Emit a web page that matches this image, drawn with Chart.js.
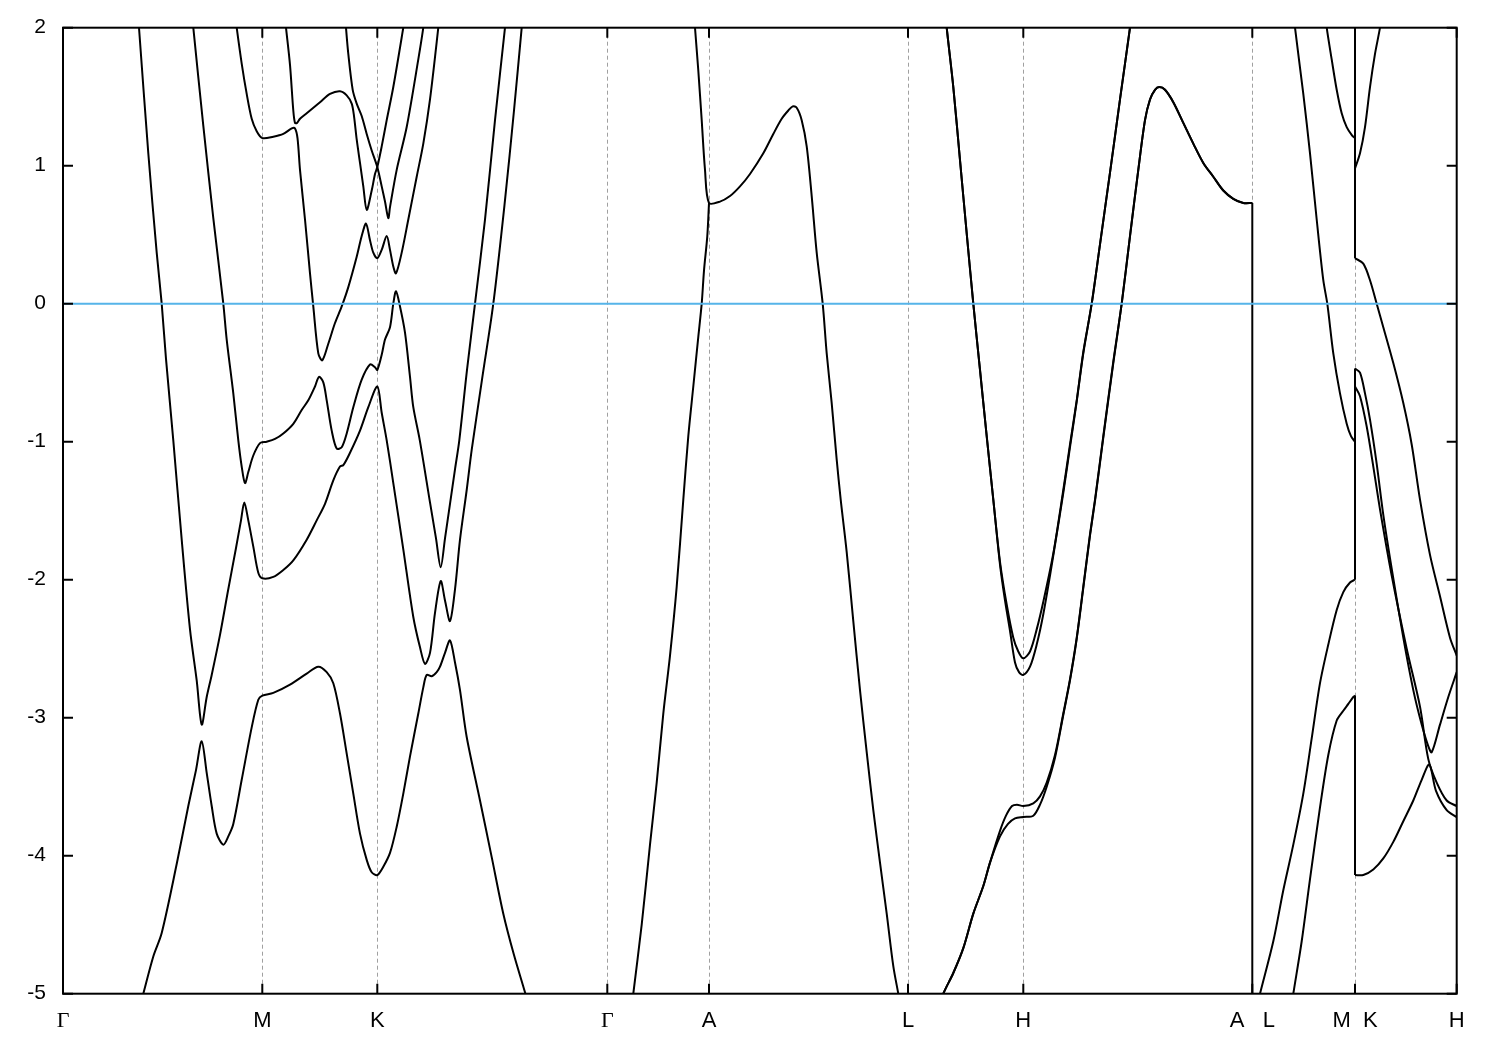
<!DOCTYPE html>
<html>
<head>
<meta charset="utf-8">
<script src="https://cdn.jsdelivr.net/npm/chart.js@4.4.1/dist/chart.umd.min.js"></script>
<style>
  html, body { margin: 0; padding: 0; background: #fff; }
</style>
</head>
<body>
<canvas id="bands" width="1500" height="1050"></canvas>
<script>
// high-symmetry points along the k-path
const kTicks = [0, 1.993, 3.143, 5.443, 6.46, 8.45, 9.603, 11.893, 12.92, 13.937];
const kLabels = ['Γ', 'M', 'K', 'Γ', 'A', 'L', 'H', 'A   L', 'M  K', 'H'];
const eTicks = [-5, -4, -3, -2, -1, 0, 1, 2];
const fermi = [[0, 0], [13.937, 0]];

// Γ - M - K - Γ
const band1 = [[0.785,-5.05],[0.803,-5.00],[0.903,-4.73],[0.987,-4.56],[1.137,-4.06],[1.253,-3.64],[1.33,-3.38],[1.387,-3.17],[1.437,-3.40],[1.487,-3.64],[1.537,-3.84],[1.603,-3.92],[1.653,-3.86],[1.703,-3.77],[1.787,-3.45],[1.887,-3.07],[1.953,-2.87],[1.993,-2.84],[2.103,-2.82],[2.27,-2.76],[2.437,-2.68],[2.553,-2.63],[2.637,-2.67],[2.703,-2.75],[2.77,-2.97],[2.837,-3.26],[2.903,-3.55],[2.97,-3.84],[3.037,-4.03],[3.087,-4.12],[3.143,-4.14],[3.203,-4.08],[3.27,-3.98],[3.337,-3.79],[3.403,-3.55],[3.47,-3.28],[3.553,-2.97],[3.603,-2.78],[3.637,-2.69],[3.687,-2.70],[3.737,-2.67],[3.77,-2.63],[3.82,-2.53],[3.87,-2.44],[3.92,-2.60],[3.97,-2.80],[4.037,-3.14],[4.17,-3.60],[4.287,-4.01],[4.403,-4.42],[4.51,-4.72],[4.62,-4.99],[4.64,-5.05]];
const band2 = [[0.755,2.05],[0.76,2.00],[0.853,1.09],[0.937,0.37],[0.987,0.00],[1.03,-0.40],[1.103,-0.99],[1.187,-1.71],[1.27,-2.36],[1.337,-2.73],[1.387,-3.05],[1.437,-2.85],[1.487,-2.69],[1.57,-2.40],[1.65,-2.08],[1.73,-1.77],[1.78,-1.57],[1.813,-1.44],[1.853,-1.57],[1.903,-1.76],[1.953,-1.95],[1.993,-1.99],[2.103,-1.98],[2.203,-1.93],[2.303,-1.86],[2.437,-1.71],[2.537,-1.57],[2.62,-1.45],[2.703,-1.28],[2.77,-1.18],[2.803,-1.17],[2.87,-1.08],[2.97,-0.92],[3.053,-0.75],[3.143,-0.60],[3.187,-0.79],[3.237,-0.99],[3.303,-1.30],[3.403,-1.78],[3.503,-2.27],[3.57,-2.49],[3.62,-2.61],[3.67,-2.53],[3.72,-2.24],[3.777,-2.01],[3.82,-2.15],[3.87,-2.30],[3.92,-2.07],[3.97,-1.71],[4.037,-1.35],[4.087,-1.06],[4.19,-0.55],[4.303,0.00],[4.42,0.75],[4.51,1.40],[4.587,2.00],[4.595,2.06]];
const band3 = [[1.297,2.06],[1.303,2.00],[1.403,1.29],[1.503,0.62],[1.603,0.00],[1.637,-0.26],[1.703,-0.65],[1.753,-0.99],[1.787,-1.18],[1.82,-1.30],[1.853,-1.22],[1.903,-1.10],[1.97,-1.01],[2.037,-1.00],[2.12,-0.98],[2.203,-0.94],[2.303,-0.87],[2.387,-0.77],[2.453,-0.70],[2.52,-0.60],[2.56,-0.53],[2.603,-0.57],[2.637,-0.70],[2.687,-0.92],[2.737,-1.05],[2.787,-1.04],[2.837,-0.94],[2.903,-0.75],[2.987,-0.55],[3.07,-0.44],[3.12,-0.46],[3.143,-0.48],[3.187,-0.37],[3.22,-0.26],[3.27,-0.17],[3.303,0.00],[3.33,0.09],[3.37,-0.02],[3.42,-0.21],[3.47,-0.53],[3.503,-0.75],[3.568,-0.99],[3.67,-1.44],[3.73,-1.70],[3.777,-1.91],[3.82,-1.70],[3.87,-1.45],[3.92,-1.20],[3.963,-0.99],[4.04,-0.48],[4.12,0.00],[4.22,0.61],[4.32,1.33],[4.42,2.00],[4.427,2.06]];
const band4 = [[1.728,2.06],[1.737,2.00],[1.787,1.74],[1.837,1.52],[1.887,1.34],[1.937,1.25],[1.993,1.20],[2.103,1.21],[2.203,1.23],[2.287,1.27],[2.32,1.27],[2.345,1.20],[2.37,0.97],[2.42,0.61],[2.47,0.22],[2.503,-0.02],[2.553,-0.36],[2.593,-0.41],[2.653,-0.29],[2.72,-0.14],[2.787,-0.02],[2.853,0.12],[2.937,0.34],[2.987,0.49],[3.03,0.58],[3.07,0.46],[3.103,0.37],[3.143,0.33],[3.187,0.39],[3.237,0.49],[3.27,0.39],[3.303,0.27],[3.33,0.22],[3.387,0.37],[3.453,0.61],[3.537,0.92],[3.603,1.16],[3.67,1.48],[3.753,2.00],[3.76,2.06]];
const band5 = [[2.222,2.06],[2.23,2.00],[2.27,1.73],[2.303,1.40],[2.32,1.31],[2.34,1.31],[2.37,1.34],[2.437,1.38],[2.57,1.46],[2.67,1.52],[2.77,1.54],[2.837,1.51],[2.887,1.45],[2.91,1.36],[2.937,1.19],[2.97,1.02],[3.003,0.85],[3.037,0.68],[3.087,0.82],[3.12,0.94],[3.143,0.99],[3.187,1.14],[3.237,1.33],[3.303,1.57],[3.403,2.00],[3.415,2.06]];
const band6 = [[2.825,2.06],[2.83,2.00],[2.853,1.81],[2.897,1.55],[2.937,1.45],[2.987,1.36],[3.037,1.23],[3.087,1.11],[3.143,0.99],[3.187,0.85],[3.22,0.74],[3.253,0.62],[3.27,0.70],[3.337,0.97],[3.437,1.28],[3.553,1.77],[3.603,2.00],[3.61,2.06]];

// Γ - A - L - H - A
const gaRise = [[5.695,-5.05],[5.703,-5.00],[5.787,-4.50],[5.87,-3.92],[5.937,-3.47],[6.003,-2.97],[6.07,-2.55],[6.137,-2.05],[6.203,-1.42],[6.253,-0.96],[6.303,-0.60],[6.353,-0.24],[6.387,0.00],[6.41,0.24],[6.443,0.49],[6.46,0.73]];
const gaHump = [[6.315,2.06],[6.32,2.00],[6.353,1.69],[6.387,1.33],[6.42,0.97],[6.46,0.73],[6.57,0.74],[6.67,0.78],[6.77,0.85],[6.87,0.94],[7.003,1.09],[7.103,1.23],[7.187,1.34],[7.253,1.40],[7.297,1.43],[7.337,1.42],[7.387,1.33],[7.437,1.14],[7.487,0.78],[7.537,0.37],[7.597,0.00],[7.637,-0.36],[7.687,-0.72],[7.737,-1.13],[7.777,-1.42],[7.837,-1.80],[7.903,-2.30],[7.97,-2.80],[8.037,-3.25],[8.103,-3.67],[8.17,-4.05],[8.237,-4.42],[8.303,-4.80],[8.353,-5.00],[8.365,-5.05]];
const hValleyA = [[8.832,2.06],[8.837,2.00],[8.903,1.57],[8.97,1.04],[9.037,0.51],[9.103,0.00],[9.17,-0.48],[9.237,-0.96],[9.303,-1.42],[9.37,-1.87],[9.437,-2.18],[9.503,-2.42],[9.553,-2.52],[9.603,-2.57],[9.67,-2.52],[9.737,-2.36],[9.803,-2.16],[9.903,-1.81],[10.003,-1.35],[10.07,-1.02],[10.137,-0.70],[10.203,-0.35],[10.287,0.00],[10.37,0.43],[10.47,0.95],[10.57,1.48],[10.67,2.00],[10.68,2.06]];
const hValleyB = [[8.832,2.06],[8.837,2.00],[8.903,1.57],[8.97,1.04],[9.037,0.51],[9.103,0.00],[9.17,-0.48],[9.237,-0.96],[9.303,-1.42],[9.37,-1.89],[9.42,-2.15],[9.47,-2.37],[9.52,-2.60],[9.56,-2.67],[9.603,-2.69],[9.67,-2.63],[9.737,-2.47],[9.803,-2.25],[9.87,-1.97],[9.953,-1.60],[10.003,-1.37],[10.07,-1.04],[10.137,-0.71],[10.203,-0.36],[10.287,0.00],[10.37,0.43],[10.47,0.95],[10.57,1.48],[10.67,2.00],[10.68,2.06]];
const hRiseA = [[8.79,-5.05],[8.803,-5.00],[8.903,-4.85],[9.003,-4.67],[9.103,-4.42],[9.203,-4.22],[9.27,-4.05],[9.37,-3.82],[9.43,-3.71],[9.49,-3.64],[9.54,-3.63],[9.603,-3.64],[9.703,-3.62],[9.77,-3.57],[9.837,-3.47],[9.92,-3.27],[10.003,-2.97],[10.07,-2.72],[10.137,-2.42],[10.203,-2.05],[10.27,-1.67],[10.32,-1.42],[10.403,-0.96],[10.503,-0.42],[10.587,0.00],[10.67,0.49],[10.753,0.97],[10.82,1.33],[10.87,1.48],[10.92,1.55],[10.963,1.57],[11.02,1.55],[11.103,1.46],[11.203,1.31],[11.303,1.16],[11.403,1.02],[11.503,0.92],[11.603,0.82],[11.703,0.76],[11.803,0.73],[11.893,0.73]];
const hRiseB = [[8.79,-5.05],[8.803,-5.00],[8.903,-4.85],[9.003,-4.67],[9.103,-4.42],[9.203,-4.22],[9.27,-4.05],[9.37,-3.86],[9.45,-3.77],[9.52,-3.73],[9.603,-3.72],[9.703,-3.71],[9.77,-3.63],[9.837,-3.50],[9.92,-3.29],[10.003,-2.98],[10.07,-2.73],[10.137,-2.43],[10.203,-2.06],[10.27,-1.68],[10.32,-1.43],[10.403,-0.97],[10.503,-0.43],[10.587,0.00],[10.67,0.49],[10.753,0.97],[10.82,1.33],[10.87,1.48],[10.92,1.55],[10.963,1.57],[11.02,1.55],[11.103,1.46],[11.203,1.31],[11.303,1.16],[11.403,1.02],[11.503,0.92],[11.603,0.82],[11.703,0.76],[11.803,0.73],[11.893,0.73]];

// L - M | K - H
const lmkA = [[12.315,2.06],[12.32,2.00],[12.403,1.52],[12.47,1.09],[12.537,0.61],[12.603,0.17],[12.643,0.00],[12.703,-0.36],[12.77,-0.65],[12.837,-0.87],[12.88,-0.96],[12.92,-1.00]];
const kgA = [[12.92,-0.47],[12.97,-0.50],[13.02,-0.65],[13.07,-0.84],[13.137,-1.16],[13.203,-1.53],[13.287,-1.92],[13.403,-2.42],[13.503,-2.80],[13.587,-3.05],[13.65,-3.20],[13.687,-3.25],[13.77,-3.05],[13.853,-2.85],[13.937,-2.67]];
const lmkB = [[12.632,2.06],[12.637,2.00],[12.687,1.77],[12.737,1.55],[12.787,1.38],[12.837,1.28],[12.89,1.22],[12.92,1.20]];
const kgB = [[12.92,0.33],[13.003,0.29],[13.07,0.17],[13.137,0.00],[13.203,-0.17],[13.303,-0.43],[13.403,-0.72],[13.487,-1.02],[13.57,-1.42],[13.67,-1.82],[13.77,-2.12],[13.87,-2.42],[13.937,-2.55]];
const lmkC = [[11.955,-5.05],[11.97,-5.00],[12.103,-4.62],[12.203,-4.25],[12.303,-3.92],[12.403,-3.55],[12.487,-3.15],[12.57,-2.75],[12.653,-2.47],[12.737,-2.22],[12.803,-2.09],[12.87,-2.02],[12.92,-2.00]];
const kgC = [[12.92,-0.60],[12.97,-0.67],[13.037,-0.89],[13.103,-1.18],[13.17,-1.49],[13.287,-1.97],[13.437,-2.50],[13.57,-2.92],[13.653,-3.30],[13.737,-3.47],[13.837,-3.60],[13.937,-3.64]];
const lmkD = [[12.293,-5.05],[12.303,-5.00],[12.387,-4.62],[12.47,-4.17],[12.57,-3.65],[12.653,-3.27],[12.737,-3.02],[12.803,-2.95],[12.853,-2.90],[12.903,-2.85],[12.92,-2.84]];
const kgD = [[12.92,-4.14],[13.003,-4.14],[13.103,-4.10],[13.203,-4.02],[13.303,-3.90],[13.403,-3.75],[13.503,-3.60],[13.587,-3.45],[13.663,-3.34],[13.73,-3.53],[13.837,-3.67],[13.937,-3.72]];
const kgE = [[12.92,0.98],[12.97,1.09],[13.02,1.28],[13.07,1.57],[13.12,1.81],[13.17,2.00],[13.178,2.06]];

// jumps drawn straight where the path is broken (A|L and M|K)
const jumps = [
  [[11.893, 0.73], [11.893, -5.05]],
  [[12.92, 2.06], [12.92, 0.33]],
  [[12.92, -0.47], [12.92, -2.00]],
  [[12.92, -2.84], [12.92, -4.14]]
];

const bands = [band1, band2, band3, band4, band5, band6,
  gaRise, gaHump, hValleyA, hValleyB, hRiseA, hRiseB,
  lmkA, kgA, lmkB, kgB, lmkC, kgC, lmkD, kgD, kgE];

const toXY = arr => arr.map(p => ({ x: p[0], y: p[1] }));

const datasets = [{
  data: toXY(fermi), borderColor: '#56b4e9', borderWidth: 2,
  showLine: true, pointRadius: 0, clip: 0
}];
bands.forEach(b => {
  datasets.push({
    data: toXY(b), borderColor: '#000', borderWidth: 2, borderJoinStyle: 'round',
    showLine: true, pointRadius: 0, tension: 0.3, clip: 0
  });
});
jumps.forEach(j => {
  datasets.push({
    data: toXY(j), borderColor: '#000', borderWidth: 2,
    showLine: true, pointRadius: 0, tension: 0, clip: 0
  });
});

// dashed lines at the symmetry points, inward ticks and the box
const frame = {
  id: 'frame',
  beforeDatasetsDraw(chart) {
    const { ctx, chartArea: a, scales } = chart;
    ctx.save();
    ctx.strokeStyle = '#a0a0a0';
    ctx.lineWidth = 1;
    ctx.setLineDash([4, 3]);
    kTicks.slice(1, -1).forEach(k => {
      const px = Math.round(scales.x.getPixelForValue(k)) + 0.5;
      ctx.beginPath();
      ctx.moveTo(px, a.top);
      ctx.lineTo(px, a.bottom);
      ctx.stroke();
    });
    ctx.restore();
  },
  afterDatasetsDraw(chart) {
    const { ctx, chartArea: a, scales } = chart;
    ctx.save();
    ctx.strokeStyle = '#000';
    ctx.lineWidth = 2;
    ctx.beginPath();
    kTicks.forEach(k => {
      const px = scales.x.getPixelForValue(k);
      ctx.moveTo(px, a.bottom); ctx.lineTo(px, a.bottom - 10);
      ctx.moveTo(px, a.top); ctx.lineTo(px, a.top + 10);
    });
    eTicks.forEach(e => {
      const py = scales.y.getPixelForValue(e);
      ctx.moveTo(a.left, py); ctx.lineTo(a.left + 10, py);
      ctx.moveTo(a.right, py); ctx.lineTo(a.right - 10, py);
    });
    ctx.stroke();
    ctx.strokeRect(a.left, a.top, a.right - a.left, a.bottom - a.top);
    ctx.restore();
  }
};

new Chart(document.getElementById('bands').getContext('2d'), {
  type: 'scatter',
  data: { datasets },
  options: {
    responsive: false,
    animation: false,
    devicePixelRatio: 1,
    layout: { padding: { top: 27.7, right: 43.3, left: 0, bottom: 0 } },
    plugins: { legend: { display: false }, tooltip: { enabled: false } },
    scales: {
      x: {
        type: 'linear', min: 0, max: 13.937,
        afterBuildTicks: s => { s.ticks = kTicks.map(value => ({ value })); },
        afterFit: s => { s.height = 56.3; },
        grid: { display: false, drawTicks: false },
        border: { display: false },
        ticks: {
          autoSkip: false, maxRotation: 0, padding: 14, color: '#000',
          callback: (v, i) => kLabels[i],
          font: c => ({ family: kLabels[c.index] === 'Γ' ? 'Liberation Serif' : 'Liberation Sans', size: 22 })
        }
      },
      y: {
        type: 'linear', min: -5, max: 2,
        afterBuildTicks: s => { s.ticks = eTicks.map(value => ({ value })); },
        afterFit: s => { s.width = 63; },
        grid: { display: false, drawTicks: false },
        border: { display: false },
        ticks: {
          padding: 17, color: '#000',
          callback: v => String(v),
          font: { family: 'Liberation Sans', size: 21, lineHeight: 0.9 }
        }
      }
    }
  },
  plugins: [frame]
});
</script>
</body>
</html>
